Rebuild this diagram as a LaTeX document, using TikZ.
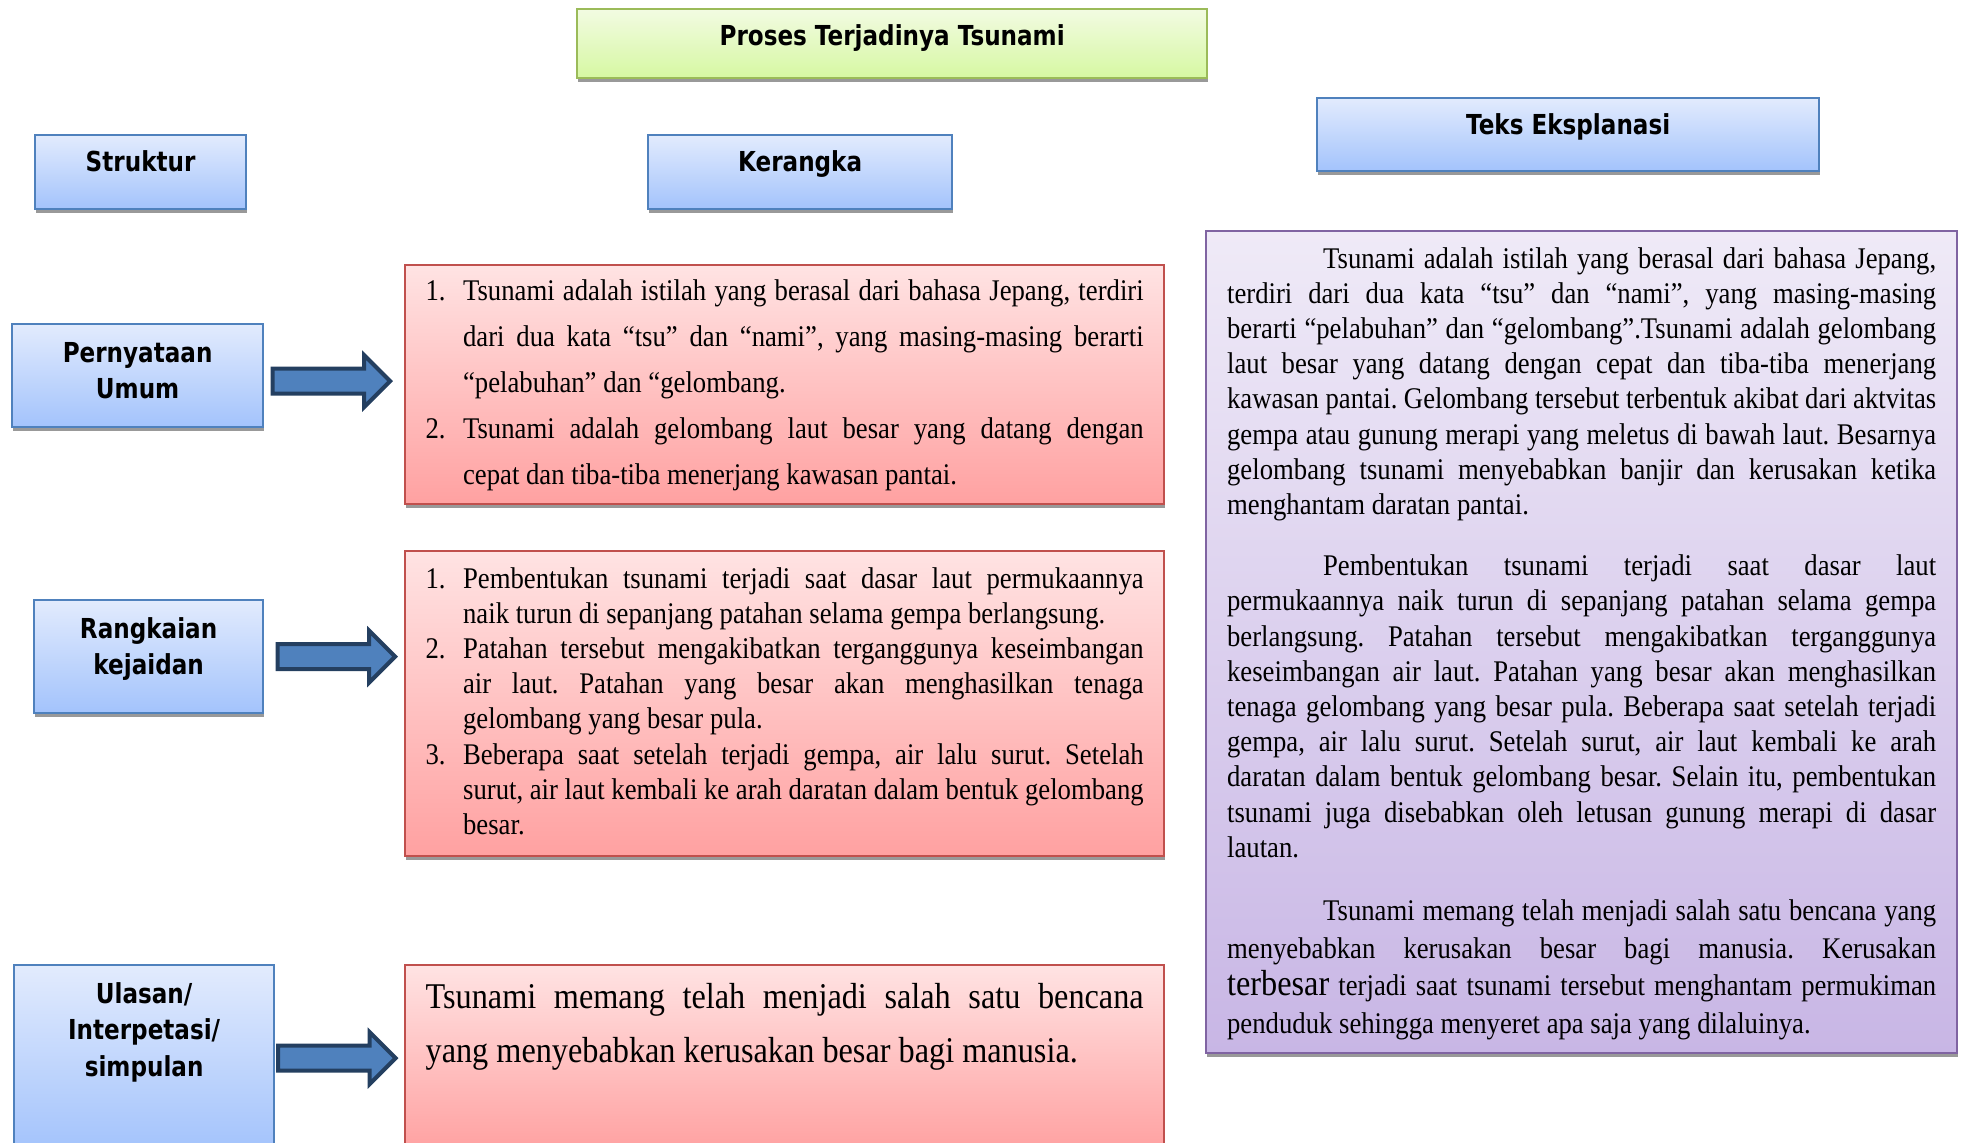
\documentclass[tikz,border=0pt]{standalone}
\usepackage{fontspec}
\setmainfont{Liberation Serif}[FakeStretch=0.89]
\newfontfamily\headfont{DejaVu Sans}[FakeStretch=0.84]
\usepackage{tikz}
\usetikzlibrary{shapes.arrows,shadows,calc}
\definecolor{hblue}{HTML}{4F81BD}
\definecolor{htop}{HTML}{E2EBFD}
\definecolor{hbot}{HTML}{A3C3FC}
\definecolor{gborder}{HTML}{9BBB59}
\definecolor{gtop}{HTML}{F2FBE2}
\definecolor{gbot}{HTML}{D6F8A2}
\definecolor{rborder}{HTML}{C0504D}
\definecolor{rtop}{HTML}{FFE3E3}
\definecolor{rbot}{HTML}{FFA1A1}
\definecolor{pborder}{HTML}{8064A2}
\definecolor{ptop}{HTML}{EFEAF7}
\definecolor{pbot}{HTML}{C8B6E5}
\definecolor{adark}{HTML}{243F60}
\tolerance=9999
\hbadness=10000
\frenchspacing

% numbered line with hanging indent
\newcommand{\numline}[2]{\hangindent=15pt\hangafter=1\noindent\makebox[15pt][l]{#1}#2\par}

\begin{document}
\begin{tikzpicture}[x=0.4pt, y=-0.4pt,
    every node/.style={font=\fontsize{12}{14.08}\selectfont},
    shade/.style={drop shadow={shadow xshift=0.4pt, shadow yshift=-1.4pt, fill=black!40, opacity=1}},
    headbox/.style={draw=hblue, line width=0.9pt, top color=htop, bottom color=hbot, shade,
                    font=\headfont\bfseries\fontsize{11}{14.6}\selectfont, align=center,
                    anchor=north west, inner xsep=0pt, inner ysep=0pt, text height=14.6pt},
    titlebox/.style={headbox, draw=gborder, top color=gtop, bottom color=gbot},
    redbox/.style={draw=rborder, line width=0.9pt, top color=rtop, bottom color=rbot, shade,
                   anchor=north west, text width=287.2pt, inner xsep=8.2pt, inner ysep=0pt,
                   align=justify},
    purplebox/.style={draw=pborder, line width=0.9pt, top color=ptop, bottom color=pbot, shade,
                      anchor=north west, text width=283.6pt, inner xsep=8.4pt, inner ysep=0pt,
                      align=justify},
    blockarr/.style={single arrow, draw=adark, fill=hblue, line width=1.6pt, inner sep=4.2pt,
                     minimum height=47pt, single arrow head extend=5.4pt,
                     single arrow head indent=0pt}
  ]
  \useasboundingbox (0,0) rectangle (1963,1142);

  % headings
  \node[titlebox, minimum width=252pt, text depth=13pt] (judul) at (576,8) {Proses Terjadinya Tsunami};
  \node[headbox, minimum width=84.4pt, text depth=15pt] (struktur) at (34,134) {Struktur};
  \node[headbox, minimum width=121.6pt, text depth=15pt] (kerangka) at (647,134) {Kerangka};
  \node[headbox, minimum width=200.8pt, text depth=14.6pt] (teks) at (1316,97) {Teks Eksplanasi};

  % structure column
  \node[headbox, minimum width=100.4pt, text height=29.8pt, text depth=11.4pt] (pu) at (11,323) {Pernyataan\\Umum};
  \node[headbox, minimum width=91.6pt, text height=29.8pt, text depth=15.4pt] (rk) at (33,599) {Rangkaian\\kejaidan};
  \node[headbox, minimum width=104pt, text height=44.4pt, text depth=30pt] (ul) at (13,964) {Ulasan/\\Interpetasi/\\simpulan};

  % frame column
  \node[redbox, font=\fontsize{12}{18.4}\selectfont, text height=14pt, text depth=81.6pt] (r1) at (404,264) {%
    \numline{1.}{Tsunami adalah istilah yang berasal dari bahasa Jepang, terdiri\linebreak
      dari dua kata “tsu” dan “nami”, yang masing-masing berarti\linebreak
      “pelabuhan” dan “gelombang.}
    \numline{2.}{Tsunami adalah gelombang laut besar yang datang dengan\linebreak
      cepat dan tiba-tiba menerjang kawasan pantai.}};

  \node[redbox, text height=14.8pt, text depth=107.2pt] (r2) at (404,550) {%
    \numline{1.}{Pembentukan tsunami terjadi saat dasar laut permukaannya\linebreak
      naik turun di sepanjang patahan selama gempa berlangsung.}
    \numline{2.}{Patahan tersebut mengakibatkan terganggunya keseimbangan\linebreak
      air laut. Patahan yang besar akan menghasilkan tenaga\linebreak
      gelombang yang besar pula.}
    \numline{3.}{Beberapa saat setelah terjadi gempa, air lalu surut. Setelah\linebreak
      surut, air laut kembali ke arah daratan dalam bentuk gelombang\linebreak
      besar.}};

  \node[redbox, font=\fontsize{14.5}{21.6}\selectfont, text height=17.2pt, text depth=57.2pt] (r3) at (404,964) {%
    Tsunami memang telah menjadi salah satu bencana\linebreak
    yang menyebabkan kerusakan besar bagi manusia.};

  % explanation text
  \node[purplebox, text height=14.8pt, text depth=314pt] (eks) at (1205,230) {%
    \hspace*{38.4pt}Tsunami adalah istilah yang berasal dari bahasa Jepang,\linebreak
    terdiri dari dua kata “tsu” dan “nami”, yang masing-masing\linebreak
    berarti “pelabuhan” dan “gelombang”.Tsunami adalah gelombang\linebreak
    laut besar yang datang dengan cepat dan tiba-tiba menerjang\linebreak
    kawasan pantai. Gelombang tersebut terbentuk akibat dari aktvitas\linebreak
    gempa atau gunung merapi yang meletus di bawah laut. Besarnya\linebreak
    gelombang tsunami menyebabkan banjir dan kerusakan ketika\linebreak
    menghantam daratan pantai.\par
    \vspace{10.4pt}
    \hspace*{38.4pt}Pembentukan tsunami terjadi saat dasar laut\linebreak
    permukaannya naik turun di sepanjang patahan selama gempa\linebreak
    berlangsung. Patahan tersebut mengakibatkan terganggunya\linebreak
    keseimbangan air laut. Patahan yang besar akan menghasilkan\linebreak
    tenaga gelombang yang besar pula. Beberapa saat setelah terjadi\linebreak
    gempa, air lalu surut. Setelah surut, air laut kembali ke arah\linebreak
    daratan dalam bentuk gelombang besar. Selain itu, pembentukan\linebreak
    tsunami juga disebabkan oleh letusan gunung merapi di dasar\linebreak
    lautan.\par
    \vspace{10.4pt}
    \fontsize{12}{15}\selectfont
    \hspace*{38.4pt}Tsunami memang telah menjadi salah satu bencana yang\linebreak
    menyebabkan kerusakan besar bagi manusia. Kerusakan\linebreak
    {\fontsize{14.5}{15}\selectfont terbesar} terjadi saat tsunami tersebut menghantam permukiman\linebreak
    penduduk sehingga menyeret apa saja yang dilaluinya.\par};

  % arrows
  \path (pu.east) -- (pu.east -| r1.west) node[blockarr, midway, xshift=-3.6pt, yshift=-2.2pt] (ar1) {};
  \path (rk.east) -- (rk.east -| r2.west) node[blockarr, midway, xshift=-1.6pt] (ar2) {};
  \path (ul.east) -- (ul.east -| r3.west) node[blockarr, midway, xshift=-3.6pt] (ar3) {};
\end{tikzpicture}
\end{document}
